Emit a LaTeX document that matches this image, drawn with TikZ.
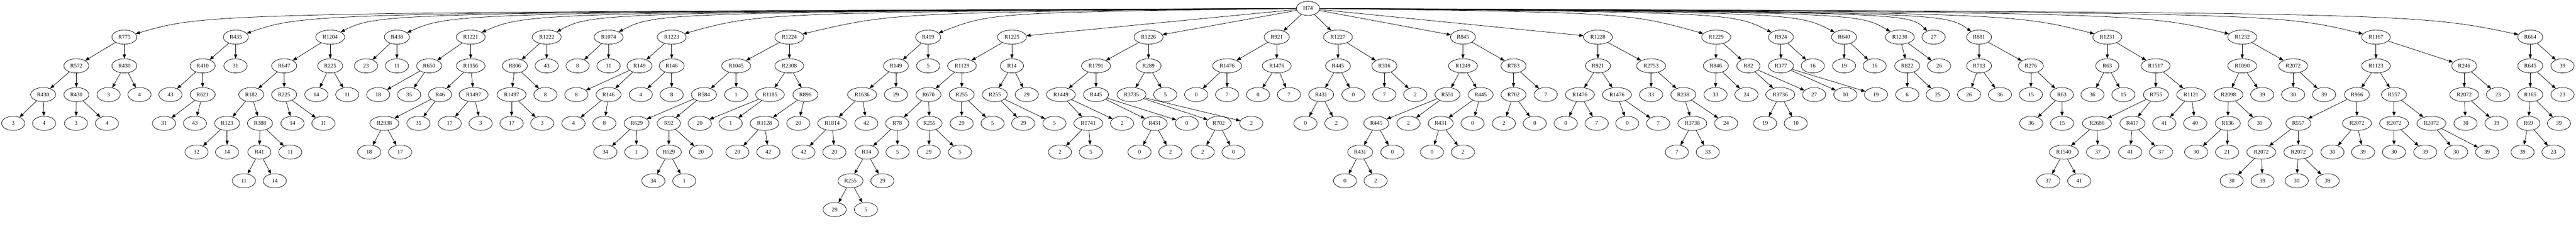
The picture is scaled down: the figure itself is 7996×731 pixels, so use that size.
\documentclass[tikz,border=0pt]{standalone}
\usepackage{fontspec}
\setmainfont{Liberation Serif}
\usetikzlibrary{shapes.geometric,arrows.meta,calc}
\begin{document}
\begin{tikzpicture}[
  nd/.style={ellipse, draw, line width=1.2pt, minimum width=72pt, minimum height=44pt, inner xsep=8.5pt, inner ysep=3pt, font=\fontsize{17.5}{20}\selectfont},
  edge/.style={-{Triangle[length=13pt,width=10pt]}, line width=1.2pt}
]
\useasboundingbox (0pt,0pt) rectangle (7996pt,-731pt);
\begin{scope}[x=1pt, y=-89.2pt, yshift=-26pt]
\node[nd] (r) at (4060,0) {H74};
% R775
\node[nd] (a1) at (386,1) {R775};
\node[nd] (a2) at (237,2) {R572};
\node[nd] (a3) at (134,3) {R430};
\node[nd] (a4) at (41,4) {3};
\node[nd] (a5) at (137,4) {4};
\node[nd] (a6) at (237,3) {R430};
\node[nd] (a7) at (236,4) {3};
\node[nd] (a8) at (332,4) {4};
\node[nd] (a9) at (386,2) {R430};
\node[nd] (a10) at (337,3) {3};
\node[nd] (a11) at (433,3) {4};
% R435
\node[nd] (b1) at (732,1) {R435};
\node[nd] (b2) at (629,2) {R410};
\node[nd] (b3) at (529,3) {43};
\node[nd] (b4) at (629,3) {R621};
\node[nd] (b5) at (509,4) {31};
\node[nd] (b6) at (605,4) {43};
\node[nd] (b7) at (731,2) {31};
% R1204
\node[nd] (c1) at (1025,1) {R1204};
\node[nd] (c2) at (882,2) {R647};
\node[nd] (c3) at (780,3) {R182};
\node[nd] (c4) at (705,4) {R123};
\node[nd] (c5) at (610,5) {32};
\node[nd] (c6) at (705,5) {14};
\node[nd] (c7) at (807,4) {R388};
\node[nd] (c8) at (805,5) {R41};
\node[nd] (c9) at (757,6) {11};
\node[nd] (c10) at (853,6) {14};
\node[nd] (c11) at (901,5) {11};
\node[nd] (c12) at (882,3) {R225};
\node[nd] (c13) at (908,4) {14};
\node[nd] (c14) at (1004,4) {11};
\node[nd] (c15) at (1025,2) {R225};
\node[nd] (c16) at (982,3) {14};
\node[nd] (c17) at (1078,3) {11};
% R438
\node[nd] (d1) at (1232,1) {R438};
\node[nd] (d2) at (1136,2) {23};
\node[nd] (d3) at (1232,2) {11};
% R1221
\node[nd] (e1) at (1461,1) {R1221};
\node[nd] (e2) at (1332,2) {R650};
\node[nd] (e3) at (1174,3) {18};
\node[nd] (e4) at (1270,3) {35};
\node[nd] (e5) at (1461,2) {R1156};
\node[nd] (e6) at (1366,3) {R46};
\node[nd] (e7) at (1193,4) {R2938};
\node[nd] (e8) at (1146,5) {18};
\node[nd] (e9) at (1242,5) {17};
\node[nd] (e10) at (1299,4) {35};
\node[nd] (e11) at (1470,3) {R1497};
\node[nd] (e12) at (1396,4) {17};
\node[nd] (e13) at (1492,4) {3};
% R1222
\node[nd] (f1) at (1697,1) {R1222};
\node[nd] (f2) at (1598,2) {R806};
\node[nd] (f3) at (1588,3) {R1497};
\node[nd] (f4) at (1588,4) {17};
\node[nd] (f5) at (1683,4) {3};
\node[nd] (f6) at (1693,3) {8};
\node[nd] (f7) at (1697,2) {43};
% R1074
\node[nd] (g1) at (1889,1) {R1074};
\node[nd] (g2) at (1793,2) {8};
\node[nd] (g3) at (1889,2) {11};
% R1223
\node[nd] (h1) at (2085,1) {R1223};
\node[nd] (h2) at (1985,2) {R149};
\node[nd] (h3) at (1789,3) {8};
\node[nd] (h4) at (1889,3) {R146};
\node[nd] (h5) at (1780,4) {4};
\node[nd] (h6) at (1876,4) {8};
\node[nd] (h7) at (2085,2) {R146};
\node[nd] (h8) at (1989,3) {4};
\node[nd] (h9) at (2085,3) {8};
% R1224
\node[nd] (i1) at (2450,1) {R1224};
\node[nd] (i2) at (2285,2) {R1045};
\node[nd] (i3) at (2185,3) {R584};
\node[nd] (i4) at (1976,4) {R629};
\node[nd] (i5) at (1879,5) {34};
\node[nd] (i6) at (1975,5) {1};
\node[nd] (i7) at (2076,4) {R92};
\node[nd] (i8) at (2076,5) {R629};
\node[nd] (i9) at (2028,6) {34};
\node[nd] (i10) at (2124,6) {1};
\node[nd] (i11) at (2176,5) {20};
\node[nd] (i12) at (2285,3) {1};
\node[nd] (i13) at (2450,2) {R2308};
\node[nd] (i14) at (2390,3) {R1185};
\node[nd] (i15) at (2172,4) {20};
\node[nd] (i16) at (2268,4) {1};
\node[nd] (i17) at (2500,3) {R896};
\node[nd] (i18) at (2373,4) {R1128};
\node[nd] (i19) at (2289,5) {20};
\node[nd] (i20) at (2385,5) {42};
\node[nd] (i21) at (2478,4) {20};
% R419
\node[nd] (j1) at (2881,1) {R419};
\node[nd] (j2) at (2781,2) {R149};
\node[nd] (j3) at (2676,3) {R1636};
\node[nd] (j4) at (2583,4) {R1814};
\node[nd] (j5) at (2494,5) {42};
\node[nd] (j6) at (2590,5) {20};
\node[nd] (j7) at (2689,4) {42};
\node[nd] (j8) at (2781,3) {29};
\node[nd] (j9) at (2881,2) {5};
% R1225
\node[nd] (k1) at (3141,1) {R1225};
\node[nd] (k2) at (2986,2) {R1129};
\node[nd] (k3) at (2882,3) {R670};
\node[nd] (k4) at (2785,4) {R78};
\node[nd] (k5) at (2690,5) {R14};
\node[nd] (k6) at (2640,6) {R255};
\node[nd] (k7) at (2591,7) {29};
\node[nd] (k8) at (2688,7) {5};
\node[nd] (k9) at (2739,6) {29};
\node[nd] (k10) at (2786,5) {5};
\node[nd] (k11) at (2885,4) {R255};
\node[nd] (k12) at (2883,5) {29};
\node[nd] (k13) at (2980,5) {5};
\node[nd] (k14) at (2985,3) {R255};
\node[nd] (k15) at (2985,4) {29};
\node[nd] (k16) at (3081,4) {5};
\node[nd] (k17) at (3141,2) {R14};
\node[nd] (k18) at (3088,3) {R255};
\node[nd] (k19) at (3176,4) {29};
\node[nd] (k20) at (3273,4) {5};
\node[nd] (k21) at (3187,3) {29};
% R1226
\node[nd] (l1) at (3565,1) {R1226};
\node[nd] (l2) at (3402,2) {R1791};
\node[nd] (l3) at (3293,3) {R1449};
\node[nd] (l4) at (3378,4) {R1741};
\node[nd] (l5) at (3290,5) {2};
\node[nd] (l6) at (3386,5) {5};
\node[nd] (l7) at (3483,4) {2};
\node[nd] (l8) at (3402,3) {R445};
\node[nd] (l9) at (3584,4) {R431};
\node[nd] (l10) at (3537,5) {0};
\node[nd] (l11) at (3633,5) {2};
\node[nd] (l12) at (3684,4) {0};
\node[nd] (l13) at (3565,2) {R289};
\node[nd] (l14) at (3512,3) {R3735};
\node[nd] (l15) at (3783,4) {R702};
\node[nd] (l16) at (3733,5) {2};
\node[nd] (l17) at (3829,5) {0};
\node[nd] (l18) at (3884,4) {2};
\node[nd] (l19) at (3617,3) {5};
% R921
\node[nd] (m1) at (3963,1) {R921};
\node[nd] (m2) at (3809,2) {R1476};
\node[nd] (m3) at (3713,3) {0};
\node[nd] (m4) at (3809,3) {7};
\node[nd] (m5) at (3963,2) {R1476};
\node[nd] (m6) at (3905,3) {0};
\node[nd] (m7) at (4001,3) {7};
% R1227
\node[nd] (n1) at (4153,1) {R1227};
\node[nd] (n2) at (4153,2) {R445};
\node[nd] (n3) at (4101,3) {R431};
\node[nd] (n4) at (4052,4) {0};
\node[nd] (n5) at (4148,4) {2};
\node[nd] (n6) at (4201,3) {0};
\node[nd] (n7) at (4297,2) {R316};
\node[nd] (n8) at (4297,3) {7};
\node[nd] (n9) at (4393,3) {2};
% R845
\node[nd] (o1) at (4541,1) {R845};
\node[nd] (o2) at (4541,2) {R1249};
\node[nd] (o3) at (4493,3) {R551};
\node[nd] (o4) at (4272,4) {R445};
\node[nd] (o5) at (4222,5) {R431};
\node[nd] (o6) at (4175,6) {0};
\node[nd] (o7) at (4270,6) {2};
\node[nd] (o8) at (4322,5) {0};
\node[nd] (o9) at (4372,4) {2};
\node[nd] (o10) at (4596,3) {R445};
\node[nd] (o11) at (4472,4) {R431};
\node[nd] (o12) at (4445,5) {0};
\node[nd] (o13) at (4541,5) {2};
\node[nd] (o14) at (4571,4) {0};
\node[nd] (o15) at (4698,2) {R783};
\node[nd] (o16) at (4698,3) {R702};
\node[nd] (o17) at (4668,4) {2};
\node[nd] (o18) at (4764,4) {0};
\node[nd] (o19) at (4798,3) {7};
% R1228
\node[nd] (p1) at (4960,1) {R1228};
\node[nd] (p2) at (4960,2) {R921};
\node[nd] (p3) at (4904,3) {R1476};
\node[nd] (p4) at (4860,4) {0};
\node[nd] (p5) at (4956,4) {7};
\node[nd] (p6) at (5019,3) {R1476};
\node[nd] (p7) at (5051,4) {0};
\node[nd] (p8) at (5147,4) {7};
\node[nd] (p9) at (5125,2) {R2753};
\node[nd] (p10) at (5125,3) {33};
\node[nd] (p11) at (5225,3) {R238};
\node[nd] (p12) at (5253,4) {R3738};
\node[nd] (p13) at (5205,5) {7};
\node[nd] (p14) at (5301,5) {33};
\node[nd] (p15) at (5358,4) {24};
% R1229
\node[nd] (q1) at (5327,1) {R1229};
\node[nd] (q2) at (5326,2) {R846};
\node[nd] (q3) at (5325,3) {33};
\node[nd] (q4) at (5421,3) {24};
\node[nd] (q5) at (5427,2) {R82};
\node[nd] (q6) at (5526,3) {R3736};
\node[nd] (q7) at (5479,4) {19};
\node[nd] (q8) at (5574,4) {10};
\node[nd] (q9) at (5631,3) {27};
% R924
\node[nd] (s1) at (5528,1) {R924};
\node[nd] (s2) at (5528,2) {R377};
\node[nd] (s3) at (5728,3) {10};
\node[nd] (s4) at (5823,3) {19};
\node[nd] (s5) at (5627,2) {16};
% R640
\node[nd] (t1) at (5724,1) {R640};
\node[nd] (t2) at (5724,2) {19};
\node[nd] (t3) at (5819,2) {16};
% R1230
\node[nd] (u1) at (5897,1) {R1230};
\node[nd] (u2) at (5920,2) {R822};
\node[nd] (u3) at (5920,3) {6};
\node[nd] (u4) at (6015,3) {25};
\node[nd] (u5) at (6019,2) {26};
% 27
\node[nd] (v1) at (6002,1) {27};
% R881
\node[nd] (w1) at (6143,1) {R881};
\node[nd] (w2) at (6143,2) {R713};
\node[nd] (w3) at (6112,3) {26};
\node[nd] (w4) at (6208,3) {36};
\node[nd] (w5) at (6304,2) {R276};
\node[nd] (w6) at (6304,3) {15};
\node[nd] (w7) at (6400,3) {R63};
\node[nd] (w8) at (6305,4) {36};
\node[nd] (w9) at (6401,4) {15};
% R1231
\node[nd] (x1) at (6541,1) {R1231};
\node[nd] (x2) at (6541,2) {R63};
\node[nd] (x3) at (6495,3) {36};
\node[nd] (x4) at (6591,3) {15};
\node[nd] (x5) at (6691,2) {R1517};
\node[nd] (x6) at (6692,3) {R755};
\node[nd] (x7) at (6509,4) {R2686};
\node[nd] (x8) at (6406,5) {R1540};
\node[nd] (x9) at (6358,6) {37};
\node[nd] (x10) at (6454,6) {41};
\node[nd] (x11) at (6512,5) {37};
\node[nd] (x12) at (6619,4) {R417};
\node[nd] (x13) at (6612,5) {41};
\node[nd] (x14) at (6708,5) {37};
\node[nd] (x15) at (6801,3) {R1121};
\node[nd] (x16) at (6718,4) {41};
\node[nd] (x17) at (6814,4) {40};
% R1232
\node[nd] (y1) at (6960,1) {R1232};
\node[nd] (y2) at (6960,2) {R1090};
\node[nd] (y3) at (6917,3) {R2098};
\node[nd] (y4) at (6915,4) {R136};
\node[nd] (y5) at (6817,5) {30};
\node[nd] (y6) at (6913,5) {21};
\node[nd] (y7) at (7014,4) {30};
\node[nd] (y8) at (7022,3) {39};
\node[nd] (y9) at (7118,2) {R2072};
\node[nd] (y10) at (7118,3) {30};
\node[nd] (y11) at (7214,3) {39};
% R1167
\node[nd] (z1) at (7375,1) {R1167};
\node[nd] (z2) at (7375,2) {R1123};
\node[nd] (z3) at (7316,3) {R966};
\node[nd] (z4) at (7134,4) {R557};
\node[nd] (z5) at (7019,5) {R2072};
\node[nd] (z6) at (6927,6) {30};
\node[nd] (z7) at (7023,6) {39};
\node[nd] (z8) at (7134,5) {R2072};
\node[nd] (z9) at (7129,6) {30};
\node[nd] (z10) at (7225,6) {39};
\node[nd] (z11) at (7316,4) {R2072};
\node[nd] (z12) at (7240,5) {30};
\node[nd] (z13) at (7335,5) {39};
\node[nd] (z14) at (7431,3) {R557};
\node[nd] (z15) at (7431,4) {R2072};
\node[nd] (z16) at (7431,5) {30};
\node[nd] (z17) at (7528,5) {39};
\node[nd] (z18) at (7547,4) {R2072};
\node[nd] (z19) at (7624,5) {30};
\node[nd] (z20) at (7720,5) {39};
\node[nd] (z21) at (7649,2) {R246};
\node[nd] (z22) at (7649,3) {R2072};
\node[nd] (z23) at (7653,4) {30};
\node[nd] (z24) at (7749,4) {39};
\node[nd] (z25) at (7754,3) {23};
% R664
\node[nd] (aa1) at (7854,1) {R664};
\node[nd] (aa2) at (7854,2) {R645};
\node[nd] (aa3) at (7854,3) {R165};
\node[nd] (aa4) at (7848,4) {R69};
\node[nd] (aa5) at (7830,5) {39};
\node[nd] (aa6) at (7926,5) {23};
\node[nd] (aa7) at (7943,4) {39};
\node[nd] (aa8) at (7954,3) {23};
\node[nd] (aa9) at (7954,2) {39};

% root edges: straight for the near children
\foreach \ea in {k1, l1, m1, n1, o1, p1}
  \draw[edge] (r) -- (\ea);
% root edges: curved over the first rank for the far children
\foreach \ea/\oo in {a1/260, b1/220, c1/155, d1/172, e1/177, f1/144, g1/147, h1/274, i1/323, j1/195,
q1/-275, s1/-151, t1/-147, u1/-130, v1/-79, w1/-106, x1/-299, y1/-314, z1/-311, aa1/-359}
  \draw[edge] (r) .. controls ($(\ea)+(\oo pt,76pt)$) .. (\ea);

\foreach \ea/\eb in {a1/a2, a2/a3, a3/a4, a3/a5, a2/a6, a6/a7, a6/a8, a1/a9, a9/a10, a9/a11,
b1/b2, b2/b3, b2/b4, b4/b5, b4/b6, b1/b7,
c1/c2, c2/c3, c3/c4, c4/c5, c4/c6, c3/c7, c7/c8, c8/c9, c8/c10, c7/c11, c2/c12, c12/c13, c12/c14, c1/c15, c15/c16, c15/c17,
d1/d2, d1/d3,
e1/e2, e2/e3, e2/e4, e1/e5, e5/e6, e6/e7, e7/e8, e7/e9, e6/e10, e5/e11, e11/e12, e11/e13,
f1/f2, f2/f3, f3/f4, f3/f5, f2/f6, f1/f7,
g1/g2, g1/g3,
h1/h2, h2/h3, h2/h4, h4/h5, h4/h6, h1/h7, h7/h8, h7/h9,
i1/i2, i2/i3, i3/i4, i4/i5, i4/i6, i3/i7, i7/i8, i8/i9, i8/i10, i7/i11, i2/i12, i1/i13, i13/i14, i14/i15, i14/i16, i13/i17, i17/i18, i18/i19, i18/i20, i17/i21,
j1/j2, j2/j3, j3/j4, j4/j5, j4/j6, j3/j7, j2/j8, j1/j9,
k1/k2, k2/k3, k3/k4, k4/k5, k5/k6, k6/k7, k6/k8, k5/k9, k4/k10, k3/k11, k11/k12, k11/k13, k2/k14, k14/k15, k14/k16, k1/k17, k17/k18, k18/k19, k18/k20, k17/k21,
l1/l2, l2/l3, l3/l4, l4/l5, l4/l6, l3/l7, l2/l8, l8/l9, l9/l10, l9/l11, l8/l12, l1/l13, l13/l14, l14/l15, l15/l16, l15/l17, l14/l18, l13/l19,
m1/m2, m2/m3, m2/m4, m1/m5, m5/m6, m5/m7,
n1/n2, n2/n3, n3/n4, n3/n5, n2/n6, n1/n7, n7/n8, n7/n9,
o1/o2, o2/o3, o3/o4, o4/o5, o5/o6, o5/o7, o4/o8, o3/o9, o2/o10, o10/o11, o11/o12, o11/o13, o10/o14, o1/o15, o15/o16, o16/o17, o16/o18, o15/o19,
p1/p2, p2/p3, p3/p4, p3/p5, p2/p6, p6/p7, p6/p8, p1/p9, p9/p10, p9/p11, p11/p12, p12/p13, p12/p14, p11/p15,
q1/q2, q2/q3, q2/q4, q1/q5, q5/q6, q6/q7, q6/q8, q5/q9,
s1/s2, s2/s3, s2/s4, s1/s5,
t1/t2, t1/t3,
u1/u2, u2/u3, u2/u4, u1/u5,
w1/w2, w2/w3, w2/w4, w1/w5, w5/w6, w5/w7, w7/w8, w7/w9,
x1/x2, x2/x3, x2/x4, x1/x5, x5/x6, x6/x7, x7/x8, x8/x9, x8/x10, x7/x11, x6/x12, x12/x13, x12/x14, x5/x15, x15/x16, x15/x17,
y1/y2, y2/y3, y3/y4, y4/y5, y4/y6, y3/y7, y2/y8, y1/y9, y9/y10, y9/y11,
z1/z2, z2/z3, z3/z4, z4/z5, z5/z6, z5/z7, z4/z8, z8/z9, z8/z10, z3/z11, z11/z12, z11/z13, z2/z14, z14/z15, z15/z16, z15/z17, z14/z18, z18/z19, z18/z20, z1/z21, z21/z22, z22/z23, z22/z24, z21/z25,
aa1/aa2, aa2/aa3, aa3/aa4, aa4/aa5, aa4/aa6, aa3/aa7, aa2/aa8, aa1/aa9}
  \draw[edge] (\ea) -- (\eb);
\end{scope}
\end{tikzpicture}
\end{document}
